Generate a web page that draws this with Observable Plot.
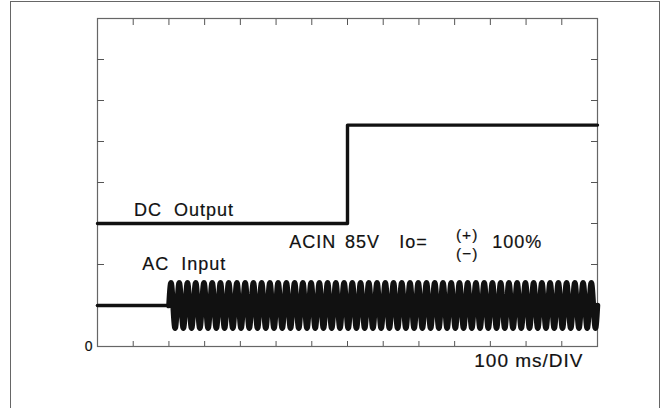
<!DOCTYPE html>
<html><head><meta charset="utf-8">
<script src="https://cdn.jsdelivr.net/npm/d3@7"></script>
<script src="https://cdn.jsdelivr.net/npm/@observablehq/plot@0.6"></script>
<style>
html,body{margin:0;padding:0;background:#fff;}
#wrap{position:relative;width:666px;height:408px;overflow:hidden;}
#wrap svg{position:absolute;left:0;top:0;}
#border{position:absolute;left:10px;top:1px;width:650px;height:440px;border:1.5px solid #666;box-sizing:border-box;}
svg text{white-space:pre;letter-spacing:1px;}
</style></head><body><div id="wrap"><div id="border"></div></div>
<script>
// grid divisions (100 ms/DIV horizontally)
const xTicks = [1,2,3,4,5,6,7,8,9,10,11,12,13];
const yTicks = [1,2,3,4,5,6,7];
// DC output trace (time in divisions, level in divisions)
const dcTime  = [0, 7, 7, 14];
const dcLevel = [3, 3, 5.4, 5.4];
// AC input: idle segment then burst
const acFlatTime  = [0, 2];
const acFlatLevel = [1, 1];
const acBurstSpan = [2, 14];   // start, end (div)
const acCycles    = [52];      // cycles counted in the burst
const acMid       = [1.0];
const acAmp       = [0.555];

const dcData = dcTime.map((t, i) => ({t, v: dcLevel[i]}));
const acFlat = acFlatTime.map((t, i) => ({t, v: acFlatLevel[i]}));
const spc = 24, nS = acCycles[0] * spc;
const acData = d3.range(nS + 1).map(i => ({
  t: acBurstSpan[0] + (acBurstSpan[1] - acBurstSpan[0]) * i / nS,
  v: acMid[0] + acAmp[0] * Math.sin(2 * Math.PI * i / spc)
}));

const ink = "#111";
const lbl = (s, x, y, o = {}) => Plot.text([s], {x, y, text: d => d, textAnchor: "start", lineAnchor: "bottom", fontSize: 18, fill: ink, stroke: ink, strokeWidth: 0.2, ...o});
const chart = Plot.plot({
  width: 666, height: 408,
  marginLeft: 97, marginRight: 69, marginTop: 18, marginBottom: 62,
  x: {domain: [0, 14], axis: null},
  y: {domain: [0, 8], axis: null},
  style: {fontFamily: "'Liberation Sans', Arial, sans-serif", background: "transparent", color: "#111"},
  marks: [
    Plot.frame({stroke: "#666", strokeWidth: 1.2}),
    Plot.axisX(xTicks, {anchor: "bottom", tickSize: -5, tickFormat: () => "", label: null, stroke: "#555"}),
    Plot.axisX(xTicks, {anchor: "top", tickSize: -6, tickFormat: () => "", label: null, stroke: "#555"}),
    Plot.axisY(yTicks, {anchor: "left", tickSize: -7, tickFormat: () => "", label: null, stroke: "#555"}),
    Plot.axisY(yTicks, {anchor: "right", tickSize: -7, tickFormat: () => "", label: null, stroke: "#555"}),
    Plot.line(dcData, {x: "t", y: "v", stroke: ink, strokeWidth: 3.4, strokeLinejoin: "round"}),
    Plot.line(acFlat, {x: "t", y: "v", stroke: ink, strokeWidth: 3.6}),
    Plot.line(acData, {x: "t", y: "v", stroke: ink, strokeWidth: 5.5, strokeLinejoin: "round"}),
    lbl("DC  Output", 1.02, 3.195),
    lbl("AC  Input", 1.25, 1.854),
    lbl("ACIN", 5.37, 2.40),
    lbl("85V", 6.93, 2.40),
    lbl("Io=", 8.45, 2.40),
    lbl("(+)", 10.35, 2.59, {textAnchor: "middle", fontSize: 15.5}),
    lbl("(−)", 10.35, 2.14, {textAnchor: "middle", fontSize: 15.5}),
    lbl("100%", 11.05, 2.40),
    lbl("100 ms/DIV", 10.55, -0.512, {fontSize: 19}),
    lbl("0", 0, 0, {textAnchor: "end", lineAnchor: "middle", dx: -4, fontSize: 14})
  ]
});
document.getElementById("wrap").prepend(chart);
</script></body></html>
